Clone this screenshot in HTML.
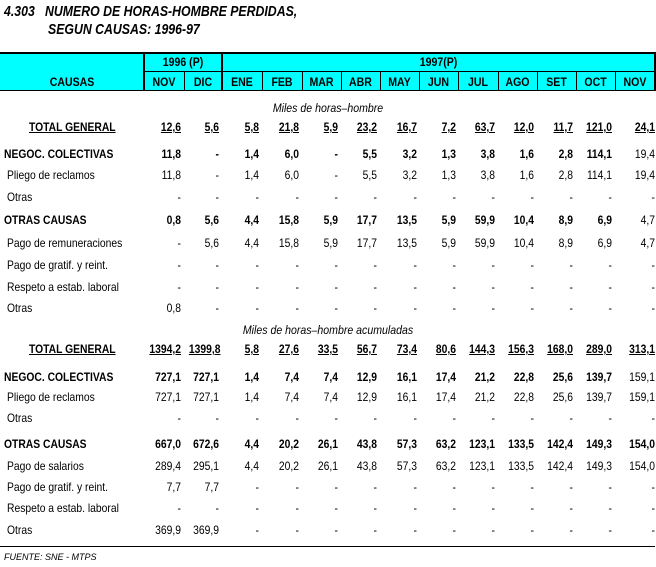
<!DOCTYPE html>
<html><head><meta charset="utf-8"><style>
body{margin:0;background:#fff;width:656px;height:567px;position:relative;overflow:hidden;font-family:"Liberation Sans",Arial,sans-serif;color:#000}
.a{position:absolute}
.t{position:absolute;font-weight:bold;font-style:italic;font-size:15px;transform:scaleX(.82);transform-origin:left;white-space:nowrap}
.r{position:absolute;left:0;width:656px;height:14px;line-height:14px;font-size:12px}
.r span{position:absolute;top:0;text-align:right;transform:scaleX(.86);transform-origin:right;white-space:nowrap}
.r span.l{text-align:left;transform-origin:left}
.b{font-weight:bold}
.u span{text-decoration:underline;font-weight:bold}
.n{font-weight:normal!important}
.c1{left:144px;width:37px}.c2{left:184px;width:35px}.c3{left:222px;width:37px}.c4{left:262px;width:37px}
.c5{left:302px;width:36px}.c6{left:341px;width:36px}.c7{left:380px;width:37px}.c8{left:420px;width:36px}
.c9{left:459px;width:36px}.c10{left:498px;width:36px}.c11{left:537px;width:36px}.c12{left:576px;width:36px}.c13{left:615px;width:40px}
.h{position:absolute;font-weight:bold;font-size:12px;text-align:center;line-height:14px;transform:scaleX(.88)}
.it{position:absolute;font-style:italic;font-size:12px;width:656px;text-align:center;left:0;transform:scaleX(.88)}
</style></head><body>
<div class="t" style="left:4px;top:3px">4.303&nbsp;&nbsp; NUMERO DE HORAS-HOMBRE PERDIDAS,</div>
<div class="t" style="left:48px;top:21px">SEGUN CAUSAS: 1996-97</div>

<div class="a" style="left:0;top:52px;width:655px;height:39px;background:#00ffff;border-top:2px solid #000;border-bottom:1px solid #000;box-sizing:border-box"></div>
<div class="a" style="left:144px;top:71px;width:511px;height:1px;background:#000"></div>
<div class="a" style="left:143px;top:52px;width:2px;height:39px;background:#000"></div>
<div class="a" style="left:221px;top:52px;width:2px;height:39px;background:#000"></div>
<div class="a" style="left:654px;top:52px;width:2px;height:39px;background:#000"></div>
<div class="a" style="left:184px;top:72px;width:1px;height:19px;background:#000"></div>
<div class="a" style="left:262px;top:72px;width:1px;height:19px;background:#000"></div>
<div class="a" style="left:302px;top:72px;width:1px;height:19px;background:#000"></div>
<div class="a" style="left:341px;top:72px;width:1px;height:19px;background:#000"></div>
<div class="a" style="left:380px;top:72px;width:1px;height:19px;background:#000"></div>
<div class="a" style="left:419px;top:72px;width:1px;height:19px;background:#000"></div>
<div class="a" style="left:458px;top:72px;width:1px;height:19px;background:#000"></div>
<div class="a" style="left:498px;top:72px;width:1px;height:19px;background:#000"></div>
<div class="a" style="left:537px;top:72px;width:1px;height:19px;background:#000"></div>
<div class="a" style="left:576px;top:72px;width:1px;height:19px;background:#000"></div>
<div class="a" style="left:615px;top:72px;width:1px;height:19px;background:#000"></div>
<div class="h" style="left:144px;width:78px;top:55px">1996 (P)</div>
<div class="h" style="left:222px;width:433px;top:55px">1997(P)</div>
<div class="h" style="left:0;width:144px;top:75px">CAUSAS</div>
<div class="h" style="left:144px;width:40px;top:75px">NOV</div><div class="h" style="left:184px;width:38px;top:75px">DIC</div>
<div class="h" style="left:222px;width:40px;top:75px">ENE</div><div class="h" style="left:262px;width:40px;top:75px">FEB</div>
<div class="h" style="left:302px;width:39px;top:75px">MAR</div><div class="h" style="left:341px;width:39px;top:75px">ABR</div>
<div class="h" style="left:380px;width:39px;top:75px">MAY</div><div class="h" style="left:419px;width:39px;top:75px">JUN</div>
<div class="h" style="left:458px;width:40px;top:75px">JUL</div><div class="h" style="left:498px;width:39px;top:75px">AGO</div>
<div class="h" style="left:537px;width:39px;top:75px">SET</div><div class="h" style="left:576px;width:39px;top:75px">OCT</div>
<div class="h" style="left:615px;width:40px;top:75px">NOV</div>

<div class="it" style="top:101px">Miles de horas–hombre</div>
<div class="r u" style="top:120px"><span class="l" style="left:29px">TOTAL GENERAL</span><span class="c1">12,6</span><span class="c2">5,6</span><span class="c3">5,8</span><span class="c4">21,8</span><span class="c5">5,9</span><span class="c6">23,2</span><span class="c7">16,7</span><span class="c8">7,2</span><span class="c9">63,7</span><span class="c10">12,0</span><span class="c11">11,7</span><span class="c12">121,0</span><span class="c13">24,1</span></div>
<div class="r b" style="top:147px"><span class="l" style="left:4px">NEGOC. COLECTIVAS</span><span class="c1">11,8</span><span class="c2">-</span><span class="c3">1,4</span><span class="c4">6,0</span><span class="c5">-</span><span class="c6">5,5</span><span class="c7">3,2</span><span class="c8">1,3</span><span class="c9">3,8</span><span class="c10">1,6</span><span class="c11">2,8</span><span class="c12">114,1</span><span class="c13 n">19,4</span></div>
<div class="r" style="top:168px"><span class="l" style="left:7px">Pliego de reclamos</span><span class="c1">11,8</span><span class="c2">-</span><span class="c3">1,4</span><span class="c4">6,0</span><span class="c5">-</span><span class="c6">5,5</span><span class="c7">3,2</span><span class="c8">1,3</span><span class="c9">3,8</span><span class="c10">1,6</span><span class="c11">2,8</span><span class="c12">114,1</span><span class="c13">19,4</span></div>
<div class="r" style="top:190px"><span class="l" style="left:7px">Otras</span><span class="c1">-</span><span class="c2">-</span><span class="c3">-</span><span class="c4">-</span><span class="c5">-</span><span class="c6">-</span><span class="c7">-</span><span class="c8">-</span><span class="c9">-</span><span class="c10">-</span><span class="c11">-</span><span class="c12">-</span><span class="c13">-</span></div>
<div class="r b" style="top:213px"><span class="l" style="left:4px">OTRAS CAUSAS</span><span class="c1">0,8</span><span class="c2">5,6</span><span class="c3">4,4</span><span class="c4">15,8</span><span class="c5">5,9</span><span class="c6">17,7</span><span class="c7">13,5</span><span class="c8">5,9</span><span class="c9">59,9</span><span class="c10">10,4</span><span class="c11">8,9</span><span class="c12">6,9</span><span class="c13 n">4,7</span></div>
<div class="r" style="top:236px"><span class="l" style="left:7px">Pago de remuneraciones</span><span class="c1">-</span><span class="c2">5,6</span><span class="c3">4,4</span><span class="c4">15,8</span><span class="c5">5,9</span><span class="c6">17,7</span><span class="c7">13,5</span><span class="c8">5,9</span><span class="c9">59,9</span><span class="c10">10,4</span><span class="c11">8,9</span><span class="c12">6,9</span><span class="c13">4,7</span></div>
<div class="r" style="top:258px"><span class="l" style="left:7px">Pago de gratif. y reint.</span><span class="c1">-</span><span class="c2">-</span><span class="c3">-</span><span class="c4">-</span><span class="c5">-</span><span class="c6">-</span><span class="c7">-</span><span class="c8">-</span><span class="c9">-</span><span class="c10">-</span><span class="c11">-</span><span class="c12">-</span><span class="c13">-</span></div>
<div class="r" style="top:280px"><span class="l" style="left:7px">Respeto a estab. laboral</span><span class="c1">-</span><span class="c2">-</span><span class="c3">-</span><span class="c4">-</span><span class="c5">-</span><span class="c6">-</span><span class="c7">-</span><span class="c8">-</span><span class="c9">-</span><span class="c10">-</span><span class="c11">-</span><span class="c12">-</span><span class="c13">-</span></div>
<div class="r" style="top:301px"><span class="l" style="left:7px">Otras</span><span class="c1">0,8</span><span class="c2">-</span><span class="c3">-</span><span class="c4">-</span><span class="c5">-</span><span class="c6">-</span><span class="c7">-</span><span class="c8">-</span><span class="c9">-</span><span class="c10">-</span><span class="c11">-</span><span class="c12">-</span><span class="c13">-</span></div>

<div class="it" style="top:323px">Miles de horas–hombre acumuladas</div>
<div class="r u" style="top:342px"><span class="l" style="left:29px">TOTAL GENERAL</span><span class="c1">1394,2</span><span class="c2">1399,8</span><span class="c3">5,8</span><span class="c4">27,6</span><span class="c5">33,5</span><span class="c6">56,7</span><span class="c7">73,4</span><span class="c8">80,6</span><span class="c9">144,3</span><span class="c10">156,3</span><span class="c11">168,0</span><span class="c12">289,0</span><span class="c13">313,1</span></div>
<div class="r b" style="top:370px"><span class="l" style="left:4px">NEGOC. COLECTIVAS</span><span class="c1">727,1</span><span class="c2">727,1</span><span class="c3">1,4</span><span class="c4">7,4</span><span class="c5">7,4</span><span class="c6">12,9</span><span class="c7">16,1</span><span class="c8">17,4</span><span class="c9">21,2</span><span class="c10">22,8</span><span class="c11">25,6</span><span class="c12">139,7</span><span class="c13 n">159,1</span></div>
<div class="r" style="top:390px"><span class="l" style="left:7px">Pliego de reclamos</span><span class="c1">727,1</span><span class="c2">727,1</span><span class="c3">1,4</span><span class="c4">7,4</span><span class="c5">7,4</span><span class="c6">12,9</span><span class="c7">16,1</span><span class="c8">17,4</span><span class="c9">21,2</span><span class="c10">22,8</span><span class="c11">25,6</span><span class="c12">139,7</span><span class="c13">159,1</span></div>
<div class="r" style="top:411px"><span class="l" style="left:7px">Otras</span><span class="c1">-</span><span class="c2">-</span><span class="c3">-</span><span class="c4">-</span><span class="c5">-</span><span class="c6">-</span><span class="c7">-</span><span class="c8">-</span><span class="c9">-</span><span class="c10">-</span><span class="c11">-</span><span class="c12">-</span><span class="c13">-</span></div>
<div class="r b" style="top:437px"><span class="l" style="left:4px">OTRAS CAUSAS</span><span class="c1">667,0</span><span class="c2">672,6</span><span class="c3">4,4</span><span class="c4">20,2</span><span class="c5">26,1</span><span class="c6">43,8</span><span class="c7">57,3</span><span class="c8">63,2</span><span class="c9">123,1</span><span class="c10">133,5</span><span class="c11">142,4</span><span class="c12">149,3</span><span class="c13">154,0</span></div>
<div class="r" style="top:459px"><span class="l" style="left:7px">Pago de salarios</span><span class="c1">289,4</span><span class="c2">295,1</span><span class="c3">4,4</span><span class="c4">20,2</span><span class="c5">26,1</span><span class="c6">43,8</span><span class="c7">57,3</span><span class="c8">63,2</span><span class="c9">123,1</span><span class="c10">133,5</span><span class="c11">142,4</span><span class="c12">149,3</span><span class="c13">154,0</span></div>
<div class="r" style="top:480px"><span class="l" style="left:7px">Pago de gratif. y reint.</span><span class="c1">7,7</span><span class="c2">7,7</span><span class="c3">-</span><span class="c4">-</span><span class="c5">-</span><span class="c6">-</span><span class="c7">-</span><span class="c8">-</span><span class="c9">-</span><span class="c10">-</span><span class="c11">-</span><span class="c12">-</span><span class="c13">-</span></div>
<div class="r" style="top:501px"><span class="l" style="left:7px">Respeto a estab. laboral</span><span class="c1">-</span><span class="c2">-</span><span class="c3">-</span><span class="c4">-</span><span class="c5">-</span><span class="c6">-</span><span class="c7">-</span><span class="c8">-</span><span class="c9">-</span><span class="c10">-</span><span class="c11">-</span><span class="c12">-</span><span class="c13">-</span></div>
<div class="r" style="top:523px"><span class="l" style="left:7px">Otras</span><span class="c1">369,9</span><span class="c2">369,9</span><span class="c3">-</span><span class="c4">-</span><span class="c5">-</span><span class="c6">-</span><span class="c7">-</span><span class="c8">-</span><span class="c9">-</span><span class="c10">-</span><span class="c11">-</span><span class="c12">-</span><span class="c13">-</span></div>

<div class="a" style="left:0;top:546px;width:655px;height:1px;background:#000"></div>
<div class="a" style="left:4px;top:552px;font-size:9px;font-style:italic">FUENTE: SNE - MTPS</div>
</body></html>
